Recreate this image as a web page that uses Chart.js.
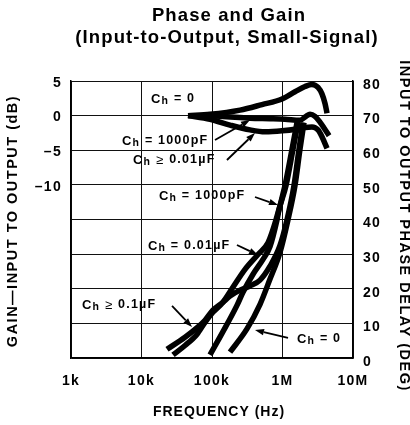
<!DOCTYPE html>
<html><head><meta charset="utf-8">
<script src="https://cdn.jsdelivr.net/npm/chart.js@4.4.1/dist/chart.umd.min.js"></script>
<style>html,body{margin:0;padding:0;background:#fff;}#wrap{width:410px;height:425px;position:relative;}</style>
</head><body><div id="wrap"><canvas id="c"></canvas></div>
<script>
const FONT = '"Liberation Sans", Arial, Helvetica, sans-serif';

// ---- axis ticks ----
const xTickValues = [1e3, 1e4, 1e5, 1e6, 1e7];
const xTickLabels = ['1k', '10k', '100k', '1M', '10M'];
const gainLabelValues = [5, 0, -5, -10];
const gainLabelTexts = ['5', '0', '–5', '–10'];

// ---- gain curves (dB) ----
const gainCh0Freq = [45.7e3, 93.7e3, 250e3, 512e3, 984e3, 1.503e6, 2.085e6, 2.62e6, 3.19e6, 3.63e6, 4.01e6, 4.28e6];
const gainCh0dB   = [0.0, 0.2, 0.8, 1.6, 2.4, 3.45, 4.2, 4.5, 4.07, 3.14, 1.75, 0.35];
const gain1000Freq = [45.7e3, 130e3, 346e3, 665e3, 1.084e6, 1.771e6, 2.154e6, 2.455e6, 2.89e6, 3.40e6, 3.88e6, 4.57e6];
const gain1000dB   = [0, -0.1, -0.38, -0.45, -0.52, -0.66, -0.1, 0.2, -0.1, -0.94, -1.78, -2.9];
const gain001Freq = [45.7e3, 93.7e3, 180e3, 346e3, 565e3, 984e3, 1.606e6, 2.085e6, 2.62e6, 3.19e6, 3.63e6, 4.28e6];
const gain001dB   = [0, -0.52, -1.36, -2.06, -2.34, -2.2, -1.92, -1.7, -1.64, -2.06, -3.04, -4.72];

// ---- phase curves (deg) ----
const phase01Freq = [23.0e3, 41.4e3, 61e3, 79.6e3, 103e3, 143e3, 180e3, 250e3, 346e3, 480e3, 665e3, 921e3, 1.158e6, 1.456e6, 1.714e6, 1.954e6];
const phase01Deg  = [2.5, 6.0, 8.7, 10.9, 13.8, 16.1, 17.9, 19.6, 20.8, 22.5, 26.5, 32.5, 39.9, 49.8, 60.3, 68.0];
const phase001Freq = [28.0e3, 41.4e3, 61e3, 79.6e3, 103e3, 143e3, 199e3, 294e3, 449e3, 623e3, 809e3, 1.084e6, 1.364e6, 1.606e6];
const phase001Deg  = [0.9, 3.6, 6.8, 10.3, 13.2, 16.1, 20.5, 25.6, 29.9, 33.3, 39.9, 49.8, 60.3, 68.0];
const phase1000Freq = [93.7e3, 143e3, 226e3, 275e3, 382e3, 529e3, 665e3, 836e3, 892e3, 1.121e6, 1.409e6, 1.66e6];
const phase1000Deg  = [0.9, 7.6, 15.2, 19.0, 24.2, 28.5, 32.2, 39.9, 42.8, 49.8, 60.3, 68.0];
const phase0Freq = [180e3, 313e3, 480e3, 665e3, 921e3, 1.196e6, 1.503e6, 1.771e6, 2.018e6];
const phase0Deg  = [1.7, 8.4, 15.5, 22.8, 30.5, 39.9, 49.8, 60.3, 68.0];

// ---- texts ----
const titleLines = ['Phase and Gain', '(Input-to-Output, Small-Signal)'];
const xTitle = 'FREQUENCY (Hz)';
const yLeftTitle = 'GAIN—INPUT TO OUTPUT (dB)';
const yRightTitle = 'INPUT TO OUTPUT PHASE DELAY (DEG)';

// curve labels: [main, subscript, relation, value]; anchored in (freq, phase-deg) space
const curveLabels = [
  {parts: ['C', 'h', ' = ', '0'],        f: 13.64e3, d: 74.8},
  {parts: ['C', 'h', ' = ', '1000pF'],   f: 5.29e3,  d: 62.67, arrow: [110.3e3, 62.96, 346e3, 68.74]},
  {parts: ['C', 'h', ' ≥ ', '0.01µF'],   f: 7.57e3,  d: 57.18, arrow: [163e3, 57.18, 407e3, 64.98]},
  {parts: ['C', 'h', ' = ', '1000pF'],   f: 17.7e3,  d: 46.79, arrow: [407e3, 46.5, 863e3, 44.19]},
  {parts: ['C', 'h', ' = ', '0.01µF'],   f: 12.36e3, d: 32.35, arrow: [226e3, 32.64, 449e3, 29.75]},
  {parts: ['C', 'h', ' ≥ ', '0.1µF'],    f: 1.43e3,  d: 15.3,  arrow: [27.1e3, 15.02, 52e3, 8.95]},
  {parts: ['C', 'h', ' = ', '0'],        f: 1.606e6, d: 5.49,  arrow: [1.197e6, 5.78, 407e3, 8.09]}
];

function series(fr, vals, axis) {
  return {
    data: fr.map((f, i) => ({x: f, y: vals[i]})),
    yAxisID: axis,
    borderColor: '#000', borderWidth: 5.5, pointRadius: 0, fill: false,
    cubicInterpolationMode: 'monotone', borderCapStyle: 'butt', borderJoinStyle: 'round'
  };
}

const deco = {
  id: 'deco',
  beforeDraw(chart) { chart.ctx.letterSpacing = '1.3px'; },
  afterDraw(chart) {
    const ctx = chart.ctx, xs = chart.scales.x, yp = chart.scales.yP;
    ctx.save();
    ctx.fillStyle = '#000'; ctx.strokeStyle = '#000';
    ctx.textBaseline = 'middle';
    // title
    ctx.letterSpacing = '1.1px';
    ctx.textAlign = 'center';
    ctx.font = 'bold 18.5px ' + FONT;
    ctx.fillText(titleLines[0], 229, 16);
    ctx.fillText(titleLines[1], 227, 38);
    // axis titles
    ctx.font = 'bold 14px ' + FONT;
    ctx.letterSpacing = '1px';
    ctx.fillText(xTitle, 219, 412);
    ctx.letterSpacing = '1.5px';
    ctx.font = 'bold 14.5px ' + FONT;
    ctx.save(); ctx.translate(13, 221); ctx.rotate(-Math.PI / 2); ctx.fillText(yLeftTitle, 0, 0); ctx.restore();
    ctx.save(); ctx.translate(404, 226); ctx.rotate(Math.PI / 2); ctx.fillText(yRightTitle, 0, 0); ctx.restore();
    // curve labels
    ctx.textAlign = 'left';
    ctx.letterSpacing = '1.2px';
    curveLabels.forEach(lb => {
      let x = xs.getPixelForValue(lb.f);
      const y = yp.getPixelForValue(lb.d);
      const styles = [
        {font: 'bold 13px ' + FONT, dy: 0},
        {font: 'bold 10.5px ' + FONT, dy: 2},
        {font: (lb.parts[2].includes('≥') ? 'normal 13px ' : 'bold 12.5px ') + FONT, dy: 0},
        {font: 'bold 12.5px ' + FONT, dy: 0}
      ];
      lb.parts.forEach((p, i) => {
        ctx.font = styles[i].font;
        ctx.fillText(p, x, y + styles[i].dy);
        x += ctx.measureText(p).width;
      });
      if (lb.arrow) {
        const x0 = xs.getPixelForValue(lb.arrow[0]), y0 = yp.getPixelForValue(lb.arrow[1]);
        const x1 = xs.getPixelForValue(lb.arrow[2]), y1 = yp.getPixelForValue(lb.arrow[3]);
        const a = Math.atan2(y1 - y0, x1 - x0), L = 9, W = 3.2;
        const bx = x1 - L * Math.cos(a), by = y1 - L * Math.sin(a);
        ctx.lineWidth = 1.8;
        ctx.beginPath(); ctx.moveTo(x0, y0); ctx.lineTo(bx, by); ctx.stroke();
        ctx.beginPath();
        ctx.moveTo(x1, y1);
        ctx.lineTo(bx + W * Math.sin(a), by - W * Math.cos(a));
        ctx.lineTo(bx - W * Math.sin(a), by + W * Math.cos(a));
        ctx.closePath(); ctx.fill();
      }
    });
    ctx.restore();
  }
};

const tickFont = {family: FONT, size: 14, weight: 'bold'};

new Chart(document.getElementById('c'), {
  type: 'line',
  data: {
    datasets: [
      series(gainCh0Freq, gainCh0dB, 'yG'),
      series(gain1000Freq, gain1000dB, 'yG'),
      series(gain001Freq, gain001dB, 'yG'),
      series(phase01Freq, phase01Deg, 'yP'),
      series(phase001Freq, phase001Deg, 'yP'),
      series(phase1000Freq, phase1000Deg, 'yP'),
      series(phase0Freq, phase0Deg, 'yP')
    ]
  },
  options: {
    responsive: true, maintainAspectRatio: false, animation: false,
    layout: {padding: {top: 81, left: 0, right: 0, bottom: 0}},
    plugins: {legend: {display: false}, tooltip: {enabled: false}, title: {display: false}},
    scales: {
      x: {
        type: 'logarithmic', position: 'bottom', min: 1e3, max: 1e7,
        afterBuildTicks: s => { s.ticks = xTickValues.map(v => ({value: v})); },
        afterFit: s => { s.height = 67; },
        ticks: {
          autoSkip: false, maxRotation: 0, padding: 15, color: '#000', font: tickFont,
          callback: v => { const i = xTickValues.indexOf(v); return i >= 0 ? xTickLabels[i] : ''; }
        },
        grid: {color: '#111', lineWidth: 1, drawTicks: false},
        border: {color: '#000', width: 1.5}
      },
      yG: {
        type: 'linear', position: 'left', min: -35, max: 5,
        afterFit: s => { s.width = 71; },
        ticks: {
          stepSize: 5, padding: 9, labelOffset: 2, color: '#000', font: tickFont,
          callback: v => { const i = gainLabelValues.indexOf(v); return i >= 0 ? gainLabelTexts[i] : ''; }
        },
        grid: {color: '#111', lineWidth: 1, drawTicks: false},
        border: {color: '#000', width: 1.5}
      },
      yP: {
        type: 'linear', position: 'right', min: 0, max: 80,
        afterFit: s => { s.width = 57; },
        ticks: {stepSize: 10, padding: 10, labelOffset: 4, color: '#000', font: tickFont},
        grid: {display: false, drawTicks: false},
        border: {color: '#000', width: 1.5}
      }
    }
  },
  plugins: [deco]
});
</script></body></html>
